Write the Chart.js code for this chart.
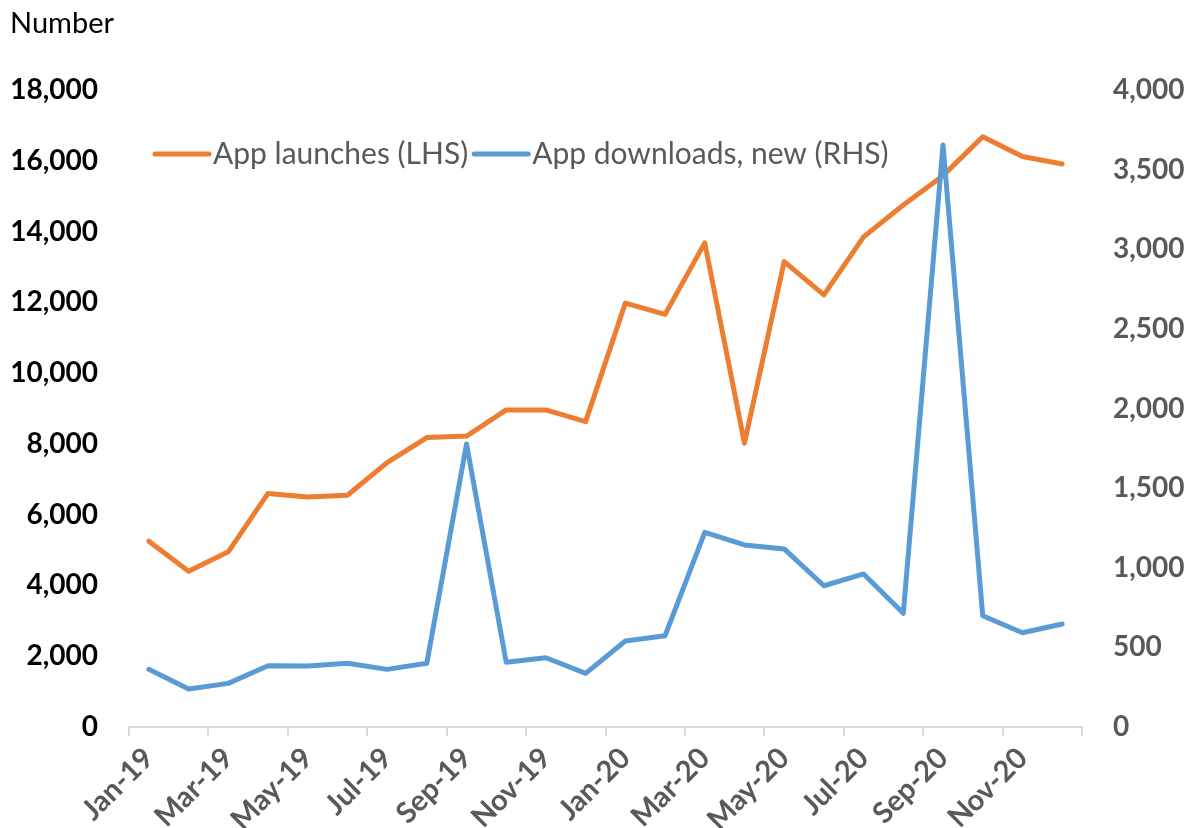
<!DOCTYPE html>
<html>
<head>
<meta charset="utf-8">
<script src="https://cdn.jsdelivr.net/npm/chart.js@4/dist/chart.umd.min.js"></script>
<style>
  html, body { margin: 0; padding: 0; background: #fff; }
  #wrap { width: 1196px; height: 828px; position: relative; }
</style>
</head>
<body>
<div id="wrap"><canvas id="appChart"></canvas></div>
<script>
// Months Jan-19 .. Dec-20
const months = ['Jan-19', 'Feb-19', 'Mar-19', 'Apr-19', 'May-19', 'Jun-19', 'Jul-19', 'Aug-19', 'Sep-19', 'Oct-19', 'Nov-19', 'Dec-19',
                'Jan-20', 'Feb-20', 'Mar-20', 'Apr-20', 'May-20', 'Jun-20', 'Jul-20', 'Aug-20', 'Sep-20', 'Oct-20', 'Nov-20', 'Dec-20'];

// App launches (LHS)
const appLaunches = [5250, 4400, 4950, 6600, 6500, 6550, 7470, 8180, 8220, 8960, 8960, 8630,
                     11980, 11660, 13680, 8020, 13150, 12210, 13850, 14750, 15580, 16680, 16120, 15910];

// App downloads, new (RHS)
const appDownloads = [362, 238, 274, 385, 383, 400, 362, 400, 1777, 406, 435, 337,
                      540, 573, 1222, 1143, 1118, 887, 961, 714, 3655, 699, 592, 647];

const leftTicks = { max: 18000, step: 2000 };
const rightTicks = { max: 4000, step: 500 };

Chart.defaults.font.family = 'Lato';

// "Number" label and the legend sitting inside the plot
const extraText = {
    id: 'extraText',
    afterDraw(chart) {
        const ctx = chart.ctx;
        ctx.save();
        ctx.textBaseline = 'middle';
        ctx.font = '29px Lato';
        ctx.fillStyle = '#000000';
        ctx.fillText('Number', 10, 24);

        ctx.font = '30px Lato';
        let x = 155;
        const y = 154;
        chart.data.datasets.forEach(ds => {
            ctx.strokeStyle = ds.borderColor;
            ctx.lineWidth = 5;
            ctx.lineCap = 'round';
            ctx.beginPath();
            ctx.moveTo(x, y);
            ctx.lineTo(x + 54, y);
            ctx.stroke();
            ctx.fillStyle = '#595959';
            ctx.fillText(ds.label, x + 58, y);
            x += 58 + ctx.measureText(ds.label).width + 6;
        });
        ctx.restore();
    }
};

new Chart(document.getElementById('appChart'), {
    type: 'line',
    data: {
        labels: months,
        datasets: [
            {
                label: 'App launches (LHS)',
                data: appLaunches,
                yAxisID: 'y',
                borderColor: '#ED7D31',
                borderWidth: 5,
                borderCapStyle: 'round',
                borderJoinStyle: 'round',
                pointRadius: 0,
                tension: 0,
                order: 1
            },
            {
                label: 'App downloads, new (RHS)',
                data: appDownloads,
                yAxisID: 'y1',
                borderColor: '#5B9BD5',
                borderWidth: 5,
                borderCapStyle: 'round',
                borderJoinStyle: 'round',
                pointRadius: 0,
                tension: 0,
                order: 0
            }
        ]
    },
    options: {
        responsive: true,
        maintainAspectRatio: false,
        animation: false,
        layout: { padding: { top: 90, left: 0, right: 0, bottom: 0 } },
        plugins: {
            legend: { display: false },
            title: { display: false },
            tooltip: { enabled: false }
        },
        scales: {
            x: {
                offset: true,
                grid: {
                    offset: true,
                    drawOnChartArea: false,
                    tickLength: 9,
                    lineWidth: 2,
                    color: ctx => (ctx.index === undefined || ctx.index % 2 === 0) ? '#d9d9d9' : 'rgba(0,0,0,0)'
                },
                border: { color: '#d9d9d9', width: 2 },
                ticks: {
                    autoSkip: false,
                    maxRotation: 45,
                    minRotation: 45,
                    padding: 5,
                    color: '#595959',
                    font: { size: 29, weight: 'bold' },
                    callback: function(value, i) {
                        return i % 2 === 0 ? months[i] : '';
                    }
                },
                afterFit: scale => { scale.height = 101; }
            },
            y: {
                position: 'left',
                min: 0,
                max: leftTicks.max,
                grid: { display: false, drawTicks: false },
                border: { display: false },
                ticks: {
                    stepSize: leftTicks.step,
                    padding: 31,
                    color: '#000000',
                    font: { size: 28, weight: 'bold' },
                    callback: v => v.toLocaleString('en-US')
                },
                afterFit: scale => { scale.width = 129; }
            },
            y1: {
                position: 'right',
                min: 0,
                max: rightTicks.max,
                grid: { display: false, drawTicks: false },
                border: { display: false },
                ticks: {
                    stepSize: rightTicks.step,
                    padding: 31,
                    color: '#595959',
                    font: { size: 28, weight: 'bold' },
                    callback: v => v.toLocaleString('en-US')
                },
                afterFit: scale => { scale.width = 114; }
            }
        }
    },
    plugins: [extraText]
});
</script>
</body>
</html>
